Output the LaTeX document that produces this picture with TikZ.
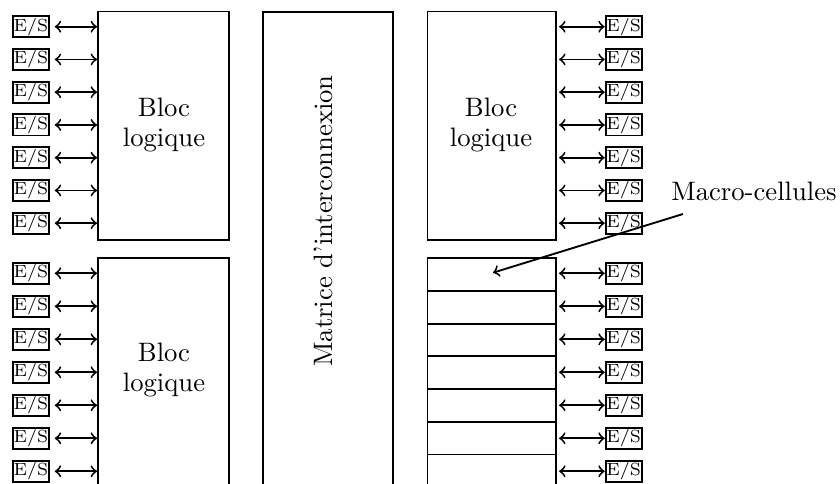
\documentclass[tikz,border=0pt]{standalone}
\usepackage{fontspec}
\usetikzlibrary{fit}
\begin{document}
\begin{tikzpicture}[x=0.375pt,y=-0.375pt, line width=0.7pt,
  es/.style={draw, font=\fontsize{6.6}{7}\selectfont, minimum width=13.5pt, minimum height=7.9pt, inner sep=0pt},
  blk/.style={draw, inner sep=0pt},
  txt/.style={font=\fontsize{10}{11.6}\selectfont, align=center}]
\useasboundingbox (0,0) rectangle (840,484);
% blocks
\node[blk, fit={(98,11.5)(229,240)}] (bl1) {};
\node[blk, fit={(98,258.3)(229,500)}] (bl2) {};
\node[blk, fit={(262.7,11.7)(393,500)}] (mat) {};
\node[blk, fit={(427.5,11.5)(556,240)}] (br1) {};
\foreach \i in {0,...,5}
  \node[blk, fit={({427.5},{258.3+32.7*\i})({556},{258.3+32.7*(\i+1)})}] (c\i) {};
\node[blk, fit={({427.5},{258.3+32.7*6})({556},{500})}] (c6) {};
% texts
\node[txt] (t1) at (164,125) {Bloc\\logique};
\node[txt] (t2) at (491,125) {Bloc\\logique};
\node[txt] (t3) at (164,370) {Bloc\\logique};
\node[txt, rotate=90] (t4) at (323,221) {Matrice d'interconnexion};
\node[txt] (mc) at (754,191) {Macro-cellules};
% E/S
\foreach \i in {0,...,6} {
  \node[es] (LT\i) at (31,{26.7+32.75*\i}) {E/S};
  \draw[<->, shorten <=1.8pt] (LT\i.east) -- (LT\i -| bl1.west);
  \node[es] (LB\i) at (31,{273.3+33*\i}) {E/S};
  \draw[<->, shorten <=1.8pt] (LB\i.east) -- (LB\i -| bl2.west);
  \node[es] (RT\i) at (623.7,{26.7+32.75*\i}) {E/S};
  \draw[<->, shorten <=0.8pt] (RT\i -| br1.east) -- (RT\i.west);
  \node[es] (RB\i) at (623.7,{273.3+33*\i}) {E/S};
  \draw[<->, shorten <=0.8pt] (RB\i -| c0.east) -- (RB\i.west);
}
\coordinate (ms) at (683,214);
\coordinate (mt) at (493,272.7);
\draw[->] (ms) -- (mt);
\end{tikzpicture}
\end{document}
